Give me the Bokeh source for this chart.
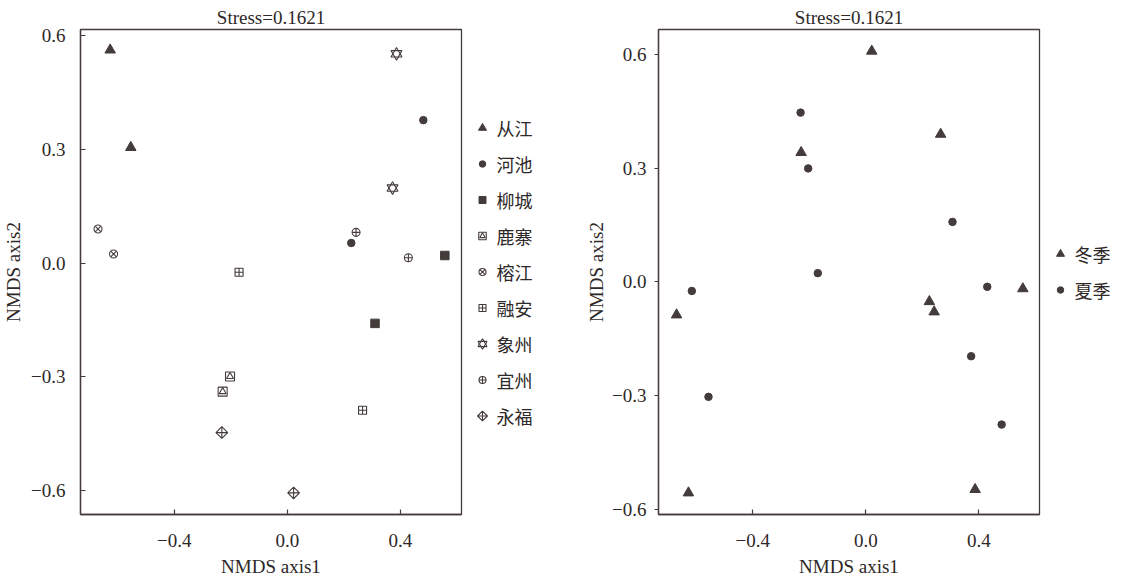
import math
from bokeh.plotting import figure
from bokeh.models import Range1d, FixedTicker, CustomJSTickFormatter
from bokeh.core.properties import value
from bokeh.layouts import row
from bokeh.embed import file_html
from bokeh.resources import INLINE

# ---------------- data ----------------
stress_text = "Stress=0.1621"
site_names = ["从江", "河池", "柳城", "鹿寨", "榕江", "融安", "象州", "宜州", "永福"]

congjiang_x = [-0.627, -0.554]
congjiang_y = [0.562, 0.305]
hechi_x = [0.481, 0.226]
hechi_y = [0.377, 0.053]
liucheng_x = [0.557, 0.310]
liucheng_y = [0.020, -0.159]
luzhai_x = [-0.203, -0.229]
luzhai_y = [-0.299, -0.339]
rongjiang_x = [-0.670, -0.615]
rongjiang_y = [0.090, 0.024]
rongan_x = [-0.171, 0.266]
rongan_y = [-0.024, -0.388]
xiangzhou_x = [0.386, 0.372]
xiangzhou_y = [0.552, 0.198]
yizhou_x = [0.243, 0.428]
yizhou_y = [0.081, 0.014]
yongfu_x = [-0.232, 0.022]
yongfu_y = [-0.447, -0.606]

season_names = ["冬季", "夏季"]
winter_x = [0.021, 0.265, -0.229, 0.556, -0.670, 0.225, 0.242, -0.628, 0.387]
winter_y = [0.608, 0.389, 0.341, -0.018, -0.087, -0.052, -0.079, -0.556, -0.547]
summer_x = [-0.231, -0.204, 0.307, -0.170, -0.616, 0.430, 0.373, -0.557, 0.481]
summer_y = [0.446, 0.299, 0.158, 0.023, -0.024, -0.013, -0.196, -0.303, -0.376]

x_ticks = [-0.4, 0.0, 0.4]
y_ticks = [-0.6, -0.3, 0.0, 0.3, 0.6]
x_label = "NMDS axis1"
y_label = "NMDS axis2"

# ---------------- styling ----------------
INK = "#443b3b"
TXT = "#2e2828"
SERIF = "Liberation Serif"
CJK = "Noto Sans CJK SC"
FS = "19px"
FW, FH = 381, 485
TOP, BOT = 29, 61
ROW_STEP = 36

fmt = CustomJSTickFormatter(code="""
    const v = Math.abs(tick) < 1e-9 ? 0 : tick;
    return (v < 0 ? "\\u2212" : "") + Math.abs(v).toFixed(1);
""")

filled = dict(fill_color=INK, line_color=INK)
opened = dict(fill_color=None, line_color=INK, line_width=1.1)


def make_fig(xr, yr, ml, ytick_in, ytick_out, ystandoff, ylab_standoff):
    p = figure(frame_width=FW, frame_height=FH,
               x_range=Range1d(*xr), y_range=Range1d(*yr),
               output_backend="svg", toolbar_location=None, title=stress_text,
               min_border_left=ml, min_border_right=2, min_border_top=TOP,
               min_border_bottom=BOT)
    p.grid.visible = False
    p.background_fill_color = "white"
    p.border_fill_color = "white"
    p.outline_line_color = INK
    p.outline_line_width = 1.3
    p.title.align = "center"
    p.title.text_font = SERIF
    p.title.text_font_size = FS
    p.title.text_font_style = "normal"
    p.title.text_color = TXT
    p.title.standoff = 3

    xa = p.xaxis[0]
    ya = p.yaxis[0]
    xa.ticker = FixedTicker(ticks=x_ticks, minor_ticks=[])
    ya.ticker = FixedTicker(ticks=y_ticks, minor_ticks=[])
    xa.formatter = fmt
    ya.formatter = fmt
    xa.major_tick_in = 5
    xa.major_tick_out = 0
    ya.major_tick_in = ytick_in
    ya.major_tick_out = ytick_out
    xa.major_label_standoff = 19
    ya.major_label_standoff = ystandoff
    xa.axis_label = x_label
    ya.axis_label = y_label
    xa.axis_label_standoff = 6
    ya.axis_label_standoff = ylab_standoff
    for ax in (xa, ya):
        ax.minor_tick_in = 0
        ax.minor_tick_out = 0
        ax.axis_line_color = INK
        ax.axis_line_width = 1.3
        ax.major_tick_line_color = INK
        ax.major_tick_line_width = 1.2
        ax.major_label_text_font = SERIF
        ax.major_label_text_font_size = FS
        ax.major_label_text_color = TXT
        ax.axis_label_text_font = SERIF
        ax.axis_label_text_font_size = FS
        ax.axis_label_text_font_style = "normal"
        ax.axis_label_text_color = TXT
    return p


def make_legend_fig(width, labels, marker_specs):
    """marker_specs: one list per label of (marker, size, style, angle)."""
    lp = figure(frame_width=width, frame_height=FH,
                x_range=Range1d(0, width), y_range=Range1d(0, FH),
                output_backend="svg", toolbar_location=None,
                x_axis_location=None, y_axis_location=None,
                min_border_left=0, min_border_right=0,
                min_border_top=TOP, min_border_bottom=BOT)
    lp.grid.visible = False
    lp.outline_line_color = None
    lp.background_fill_color = "white"
    lp.border_fill_color = "white"
    n = len(labels)
    ys = [FH / 2 + ((n - 1) / 2 - k) * ROW_STEP for k in range(n)]
    for k, specs in enumerate(marker_specs):
        for marker, size, style, angle in specs:
            lp.scatter([19], [ys[k]], marker=marker, size=size, angle=angle, **style)
    lp.text([33] * n, ys, text=labels, text_font=value(CJK), text_font_size="18px",
            text_baseline="middle", text_align="left", text_color=TXT)
    return lp


# ---------------- left panel: sites ----------------
p1 = make_fig((-0.732, 0.616), (-0.663, 0.616), 74, 5, 0, 15, 4)

p1.scatter(congjiang_x, congjiang_y, marker="triangle", size=10.5, **filled)
p1.scatter(hechi_x, hechi_y, marker="circle", size=7.5, **filled)
p1.scatter(liucheng_x, liucheng_y, marker="square", size=8.5, **filled)
p1.scatter(luzhai_x, luzhai_y, marker="square", size=9, **opened)
p1.scatter(luzhai_x, luzhai_y, marker="triangle", size=7, **opened)
p1.scatter(rongjiang_x, rongjiang_y, marker="circle_x", size=8, **opened)
p1.scatter(rongan_x, rongan_y, marker="square_cross", size=8, **opened)
p1.scatter(xiangzhou_x, xiangzhou_y, marker="triangle", size=11, **opened)
p1.scatter(xiangzhou_x, xiangzhou_y, marker="inverted_triangle", size=11, **opened)
p1.scatter(yizhou_x, yizhou_y, marker="circle_cross", size=8, **opened)
p1.scatter(yongfu_x, yongfu_y, marker="square_x", size=8.3, angle=math.pi / 4, **opened)

site_markers = [
    [("triangle", 8, filled, 0)],
    [("circle", 6.5, filled, 0)],
    [("square", 7, filled, 0)],
    [("square", 7.5, opened, 0), ("triangle", 5.5, opened, 0)],
    [("circle_x", 7, opened, 0)],
    [("square_cross", 7, opened, 0)],
    [("triangle", 9, opened, 0), ("inverted_triangle", 9, opened, 0)],
    [("circle_cross", 7, opened, 0)],
    [("square_x", 7, opened, math.pi / 4)],
]
leg1 = make_legend_fig(117, site_names, site_markers)

# ---------------- right panel: seasons ----------------
p2 = make_fig((-0.734, 0.615), (-0.613, 0.665), 78, 0, 4, 8, 2)
p2.scatter(winter_x, winter_y, marker="triangle", size=10.5, **filled)
p2.scatter(summer_x, summer_y, marker="circle", size=7.5, **filled)

season_markers = [[("triangle", 8, filled, 0)], [("circle", 6.5, filled, 0)]]
leg2 = make_legend_fig(72, season_names, season_markers)

layout = row(p1, leg1, p2, leg2)
open("out.html", "w").write(file_html(layout, INLINE))
